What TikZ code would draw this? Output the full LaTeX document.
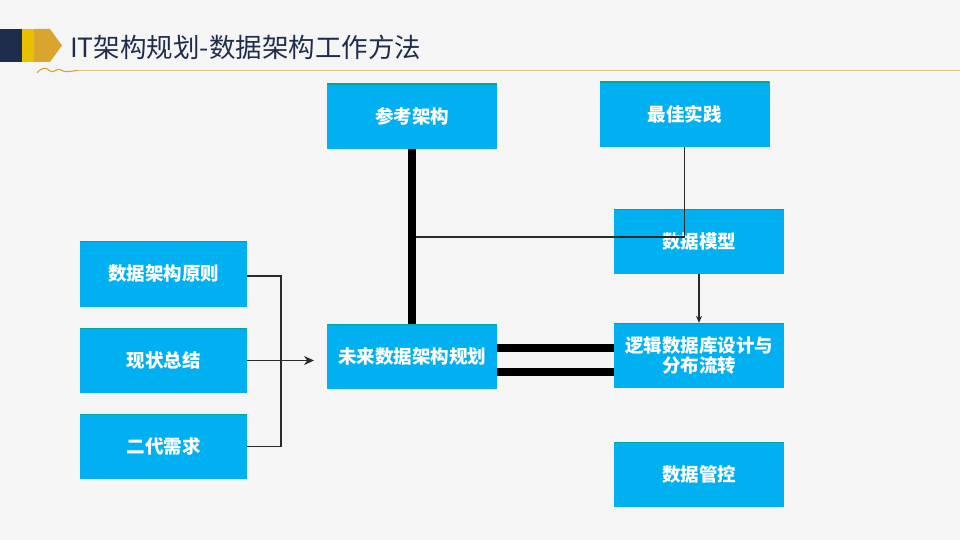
\documentclass[tikz,border=0pt]{standalone}
\usepackage{fontspec}
\newfontfamily\cjk{Noto Sans CJK SC}
\usetikzlibrary{arrows.meta,positioning}
\definecolor{pagebg}{HTML}{F5F5F5}
\definecolor{boxblue}{HTML}{00B0F0}
\definecolor{boxedge}{HTML}{00A69A}
\definecolor{navy}{HTML}{1F2D4D}
\definecolor{baryellow}{HTML}{E8C000}
\definecolor{bargold}{HTML}{DAA52E}
\definecolor{rulegold}{HTML}{E2C27A}
\definecolor{linkgray}{HTML}{2A2A2A}

\begin{document}
\begin{tikzpicture}[x=1pt, y=-1pt, >=Stealth,
    blockbox/.style={rectangle, fill=boxblue, minimum width=170pt, minimum height=65pt,
      inner sep=0pt, text=white, align=center, font=\cjk\bfseries\fontsize{18.5}{20}\selectfont,
      path picture={\draw[boxedge, line width=1.2pt] (path picture bounding box.north west) -- (path picture bounding box.north east);}},
    thinlink/.style={draw=linkgray, line width=1.3pt},
    heavylink/.style={draw=black, line width=7.5pt}]
    % Background
    \fill[pagebg] (0,0) rectangle (960,540);
    \useasboundingbox (0,0) rectangle (960,540);

    % Header
    \fill[navy] (0,29) rectangle (22,62);
    \fill[baryellow] (22,29) rectangle (34,62);
    \fill[bargold] (34,29) -- (50,29) -- (62,45.5) -- (50,62) -- (34,62) -- cycle;
    \node[anchor=west, text=navy, inner sep=0pt, font=\cjk\fontsize{26.5}{28}\selectfont] (title) at (70,47) {IT架构规划-数据架构工作方法};
    \draw[bargold, line width=1.1pt] (37,73) .. controls (42,67) and (46,67) .. (50,71)
      .. controls (54,74) and (57,67) .. (61,70) .. controls (65,73) and (70,71) .. (78,70.5);
    \draw[rulegold, line width=1pt] (78,70.5) -- (960,70.5);

    % Boxes
    \node[blockbox] (ref) at (412,116.5) {参考架构};
    \node[blockbox] (best) at (684.5,114.5) {最佳实践};
    \node[blockbox] (model) at (699,241.5) {数据模型};
    \node[blockbox] (logic) at (699,355.5) {逻辑数据库设计与\\分布流转};
    \node[blockbox] (ctrl) at (699,474.5) {数据管控};
    \node[blockbox] (future) at (412,356.5) {未来数据架构规划};
    \node[blockbox, minimum width=167pt] (princ) at (163.5,274) {数据架构原则};
    \node[blockbox, minimum width=167pt] (status) at (163.5,360.5) {现状总结};
    \node[blockbox, minimum width=167pt] (req) at (163.5,446.5) {二代需求};

    % Links on the right
    \draw[heavylink] (ref.south) -- (future.north);
    \coordinate (joint) at (416,237);
    \draw[thinlink] (best.south) |- (joint);
    \draw[thinlink, -{Stealth[length=7pt,width=6pt]}] (model.south) -- (logic.north);
    \draw[heavylink] ([yshift=8.5pt]future.east) -- ([yshift=8.5pt]future.east -| logic.west);
    \draw[heavylink] ([yshift=-15.5pt]future.east) -- ([yshift=-15.5pt]future.east -| logic.west);

    % Inputs on the left
    \coordinate (fanin) at (314,360.5);
    \draw[thinlink] ([yshift=-2pt]princ.east) -| (281,446.5) -- (req.east);
    \draw[thinlink, -{Stealth[length=10pt,width=9pt]}] (status.east) -- (fanin);
  \end{tikzpicture}
\end{document}
